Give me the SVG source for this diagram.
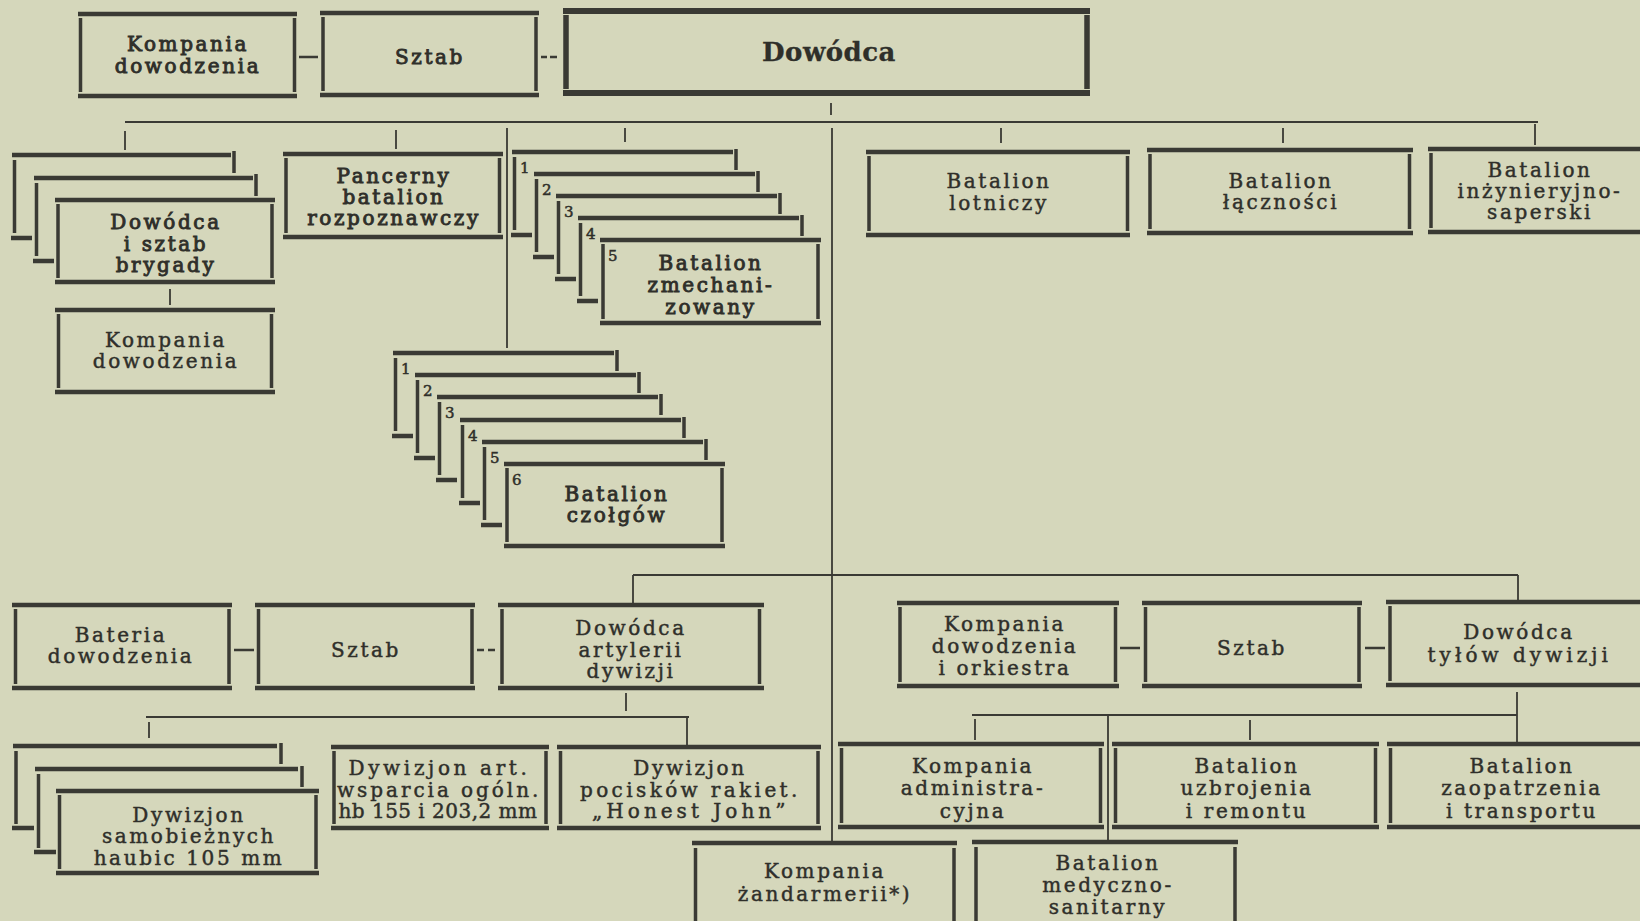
<svg xmlns="http://www.w3.org/2000/svg" width="1640" height="921" viewBox="0 0 1640 921">
<style>
.bg{fill:#d5d7bb}
.bar{stroke:#3a3a34;stroke-width:4.5;fill:none}
.sd{stroke:#3a3a34;stroke-width:3.5;fill:none}
.bar6{stroke:#3a3a34;stroke-width:6;fill:none}
.sd6{stroke:#3a3a34;stroke-width:5.5;fill:none}
.ln{stroke:#3a3a34;stroke-width:1.8;fill:none}
.dash{stroke:#3a3a34;stroke-width:2.4;fill:none}
text{font-family:"DejaVu Serif","Liberation Serif",serif;font-size:20px;fill:#2f2f2a;stroke:#2f2f2a;stroke-width:0.45px;text-anchor:middle;letter-spacing:2.6px}
.b{stroke-width:0.9px}
.big{font-weight:bold;font-size:26px;letter-spacing:0.5px;stroke-width:0.3px}
.n{font-size:15px;text-anchor:start;letter-spacing:0;stroke-width:0.5px}
</style>
<rect class="bg" x="0" y="0" width="1640" height="921"/>

<g id="connectors">
<path class="dash" d="M299 57 H318 M541 57 H547 M550 57 H557"/>
<path class="ln" d="M831 103 V115 M125 122 H1538 M125 131 V150 M396 130 V149 M507 128 V348 M625 128 V142 M832 128 V843 M1001 128 V143 M1283 128 V143 M1535 124 V145"/>
<path class="ln" d="M170 289 V305"/>
<path class="ln" d="M633 575 H1518 M633 575 V603 M1518 575 V600"/>
<path class="dash" d="M234 650 H254 M477 650 H484 M488 650 H495"/>
<path class="ln" d="M626 693 V711 M146 717 H689 M149 722 V738 M687 717 V745"/>
<path class="dash" d="M1120 648 H1140 M1365 648 H1385"/>
<path class="ln" d="M1517 692 V742 M972 715 H1517 M975 719 V740 M1250 720 V740 M1108 715 V842"/>
</g>

<g id="n-kompania-dowodzenia-top">
<path class="bar" d="M78 14 H297 M78 96 H297"/>
<path class="sd" d="M80.5 18 V92 M294.5 18 V92"/>
<text class="b" x="188" y="51">Kompania</text>
<text class="b" x="188" y="73">dowodzenia</text>
</g>

<g id="n-sztab-top">
<path class="bar" d="M320 13 H539 M320 95 H539"/>
<path class="sd" d="M323 17 V91 M536 17 V91"/>
<text class="b" x="430" y="64">Sztab</text>
</g>

<g id="n-dowodca">
<path class="bar6" d="M563 11 H1090 M563 93 H1090"/>
<path class="sd6" d="M566 15 V89 M1087 15 V89"/>
<text class="big" x="829" y="61">Dowódca</text>
</g>

<g id="n-dowodca-brygady">
<path class="bar" d="M12 155 H231 M11 238 H32 M34 178 H253 M33 261 H54 M55 200 H275 M55 282 H275"/>
<path class="sd" d="M234 151 V173 M14.5 160 V233 M256 174 V196 M36.5 183 V256 M58 204 V278 M272 204 V278"/>
<text class="b" x="166" y="229">Dowódca</text>
<text class="b" x="166" y="251">i sztab</text>
<text class="b" x="166" y="272">brygady</text>
</g>

<g id="n-kompania-dowodzenia-2">
<path class="bar" d="M55 310 H275 M55 392 H275"/>
<path class="sd" d="M58.5 314 V388 M271.5 314 V388"/>
<text x="166" y="347">Kompania</text>
<text x="166" y="368">dowodzenia</text>
</g>

<g id="n-pancerny">
<path class="bar" d="M283 154 H503 M283 237 H503"/>
<path class="sd" d="M286 158 V233 M499.5 158 V233"/>
<text class="b" x="394" y="183">Pancerny</text>
<text class="b" x="394" y="204">batalion</text>
<text class="b" x="394" y="225">rozpoznawczy</text>
</g>

<g id="n-batalion-zmechanizowany">
<path class="bar" d="M512 152 H733 M511 235 H532 M534 174 H755 M533 257 H554 M556 196 H777 M555 279 H576 M578 218 H799 M577 301 H598 M600 240 H821 M600 323 H821"/>
<path class="sd" d="M736 149 V170 M514.5 157 V230 M758 171 V192 M536.5 179 V252 M780 193 V214 M558.5 201 V274 M802 215 V236 M580.5 223 V296 M603 244 V319 M818 244 V319"/>
<text class="n" x="520" y="173">1</text>
<text class="n" x="542" y="195">2</text>
<text class="n" x="564" y="217">3</text>
<text class="n" x="586" y="239">4</text>
<text class="n" x="608" y="261">5</text>
<text class="b" x="711" y="270">Batalion</text>
<text class="b" x="711" y="292">zmechani-</text>
<text class="b" x="711" y="314">zowany</text>
</g>

<g id="n-batalion-czolgow">
<path class="bar" d="M393 353 H614 M392 436 H413 M415 375 H636 M414 458 H435 M437 397 H658 M436 480 H457 M460 420 H681 M459 503 H480 M482 442 H703 M481 525 H502 M504 464 H725 M504 546 H725"/>
<path class="sd" d="M617 350 V371 M395.5 358 V431 M639 372 V393 M417.5 380 V453 M661 394 V415 M439.5 402 V475 M684 417 V438 M462.5 425 V498 M706 439 V460 M484.5 447 V520 M507 468 V542 M722 468 V542"/>
<text class="n" x="401" y="374">1</text>
<text class="n" x="423" y="396">2</text>
<text class="n" x="445" y="418">3</text>
<text class="n" x="468" y="441">4</text>
<text class="n" x="490" y="463">5</text>
<text class="n" x="512" y="485">6</text>
<text class="b" x="617" y="501">Batalion</text>
<text class="b" x="617" y="522">czołgów</text>
</g>

<g id="n-batalion-lotniczy">
<path class="bar" d="M866 152 H1130 M866 235 H1130"/>
<path class="sd" d="M869 156 V231 M1127.5 156 V231"/>
<text x="999" y="188">Batalion</text>
<text x="999" y="210">lotniczy</text>
</g>

<g id="n-batalion-lacznosci">
<path class="bar" d="M1147 150 H1413 M1147 233 H1413"/>
<path class="sd" d="M1150 154 V229 M1409.5 154 V229"/>
<text x="1281" y="188">Batalion</text>
<text x="1281" y="209">łączności</text>
</g>

<g id="n-batalion-inzynieryjno-saperski">
<path class="bar" d="M1428 149 H1660 M1428 232 H1660"/>
<path class="sd" d="M1431 153 V228"/>
<text x="1540" y="177">Batalion</text>
<text x="1540" y="198">inżynieryjno-</text>
<text x="1540" y="219">saperski</text>
</g>

<g id="n-bateria-dowodzenia">
<path class="bar" d="M12 605 H232 M12 688 H232"/>
<path class="sd" d="M15.5 609 V684 M229 609 V684"/>
<text x="121" y="642">Bateria</text>
<text x="121" y="663">dowodzenia</text>
</g>

<g id="n-sztab-art">
<path class="bar" d="M255 605 H475 M255 688 H475"/>
<path class="sd" d="M258.5 609 V684 M472 609 V684"/>
<text x="366" y="657">Sztab</text>
</g>

<g id="n-dowodca-artylerii">
<path class="bar" d="M498 605 H764 M498 688 H764"/>
<path class="sd" d="M502 609 V684 M759.5 609 V684"/>
<text x="631" y="635">Dowódca</text>
<text x="631" y="657">artylerii</text>
<text x="631" y="678">dywizji</text>
</g>

<g id="n-dywizjon-samobieznych">
<path class="bar" d="M13 746 H277 M12 828 H34 M35 769 H298 M34 852 H56 M56 791 H319 M56 873 H319"/>
<path class="sd" d="M281 743 V764 M16 751 V824 M302 766 V787 M38.5 774 V848 M59.5 795 V869 M316 795 V869"/>
<text x="189" y="822">Dywizjon</text>
<text x="189" y="843">samobieżnych</text>
<text x="189" y="865">haubic 105 mm</text>
</g>

<g id="n-dywizjon-wsparcia">
<path class="bar" d="M331 747 H549 M331 828 H549"/>
<path class="sd" d="M334 751 V824 M546 751 V824"/>
<text x="439" y="775" textLength="181" lengthAdjust="spacing">Dywizjon art.</text>
<text x="439" y="797" textLength="204" lengthAdjust="spacing">wsparcia ogóln.</text>
<text x="439" y="818" textLength="201" lengthAdjust="spacing">hb 155 i 203,2 mm</text>
</g>

<g id="n-dywizjon-pociskow">
<path class="bar" d="M557 747 H821 M557 828 H821"/>
<path class="sd" d="M560.5 751 V824 M818 751 V824"/>
<text x="690" y="775">Dywizjon</text>
<text x="690" y="797" textLength="220" lengthAdjust="spacing">pocisków rakiet.</text>
<text x="690" y="818" textLength="196" lengthAdjust="spacing">„Honest John”</text>
</g>

<g id="n-kompania-dowodzenia-orkiestra">
<path class="bar" d="M897 603 H1119 M897 686 H1119"/>
<path class="sd" d="M900 607 V682 M1115.5 607 V682"/>
<text x="1005" y="631">Kompania</text>
<text x="1005" y="653">dowodzenia</text>
<text x="1005" y="675">i orkiestra</text>
</g>

<g id="n-sztab-tylow">
<path class="bar" d="M1142 603 H1362 M1142 686 H1362"/>
<path class="sd" d="M1145.5 607 V682 M1359 607 V682"/>
<text x="1252" y="655">Sztab</text>
</g>

<g id="n-dowodca-tylow">
<path class="bar" d="M1386 602 H1660 M1386 685 H1660"/>
<path class="sd" d="M1390 606 V681"/>
<text x="1519" y="639">Dowódca</text>
<text x="1519" y="662" textLength="183" lengthAdjust="spacing">tyłów dywizji</text>
</g>

<g id="n-kompania-administracyjna">
<path class="bar" d="M838 744 H1104 M838 827 H1104"/>
<path class="sd" d="M841.5 748 V823 M1100.5 748 V823"/>
<text x="973" y="773">Kompania</text>
<text x="973" y="795">administra-</text>
<text x="973" y="818">cyjna</text>
</g>

<g id="n-batalion-uzbrojenia">
<path class="bar" d="M1112 744 H1379 M1112 827 H1379"/>
<path class="sd" d="M1115.5 748 V823 M1375.5 748 V823"/>
<text x="1247" y="773">Batalion</text>
<text x="1247" y="795">uzbrojenia</text>
<text x="1247" y="818">i remontu</text>
</g>

<g id="n-batalion-zaopatrzenia">
<path class="bar" d="M1387 744 H1660 M1387 827 H1660"/>
<path class="sd" d="M1390.5 748 V823"/>
<text x="1522" y="773">Batalion</text>
<text x="1522" y="795">zaopatrzenia</text>
<text x="1522" y="818">i transportu</text>
</g>

<g id="n-kompania-zandarmerii">
<path class="bar" d="M692 843 H957"/>
<path class="sd" d="M695.5 848 V930 M954 848 V930"/>
<text x="825" y="878">Kompania</text>
<text x="825" y="901">żandarmerii*)</text>
</g>

<g id="n-batalion-medyczno-sanitarny">
<path class="bar" d="M972 842 H1238"/>
<path class="sd" d="M976 847 V930 M1235 847 V930"/>
<text x="1108" y="870">Batalion</text>
<text x="1108" y="892">medyczno-</text>
<text x="1108" y="914">sanitarny</text>
</g>
</svg>
